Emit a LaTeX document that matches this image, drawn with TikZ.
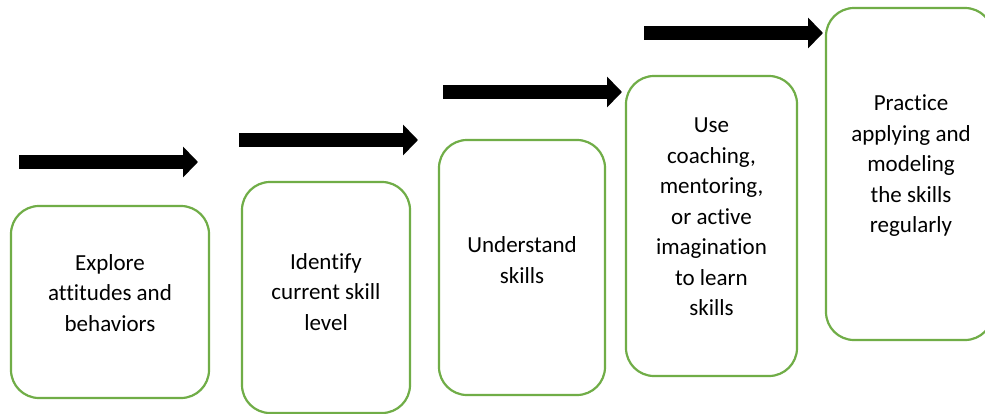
\documentclass[tikz,border=0pt]{standalone}
\usepackage{fontspec}
\setmainfont{Carlito}[Ligatures=NoCommon]
\usetikzlibrary{arrows.meta}
\definecolor{stepgreen}{HTML}{70AD47}
\begin{document}
\begin{tikzpicture}[x=1pt,y=-1pt,
  stepbox/.style={draw=stepgreen, line width=2.2pt, rounded corners=28pt,
    fill=white, inner sep=0pt, rectangle},
  steptext/.style={align=center, inner sep=0pt,
    font=\fontsize{23}{30.5}\selectfont},
  stepdir/.style={line width=14.5pt, draw=black,
    -{Triangle[length=15pt 0, width=30pt 0]}}]
  \useasboundingbox (0,0) rectangle (985,413);
  \clip (0,0) rectangle (985,413);
  \fill[white] (0,0) rectangle (985,413);

  % step boxes
  \node[stepbox, minimum width=198pt, minimum height=192pt] (b1) at (110,302) {};
  \node[stepbox, minimum width=168pt, minimum height=231pt] (b2) at (326,297.5) {};
  \node[stepbox, minimum width=166pt, minimum height=255pt] (b3) at (522,267.5) {};
  \node[stepbox, minimum width=171pt, minimum height=300pt] (b4) at (711.5,226) {};
  \node[stepbox, minimum width=167pt, minimum height=332pt] (b5) at (909.5,174) {};

  % step labels
  \node[steptext] (t1) at (110,293) {Explore\\attitudes and\\behaviors};
  \node[steptext] (t2) at (326,292) {Identify\\current skill\\level};
  \node[steptext] (t3) at (522,260) {Understand\\skills};
  \node[steptext] (t4) at (711.5,217) {Use\\coaching,\\mentoring,\\or active\\imagination\\to learn\\skills};
  \node[steptext] (t5) at (911,166) {Practice\\applying and\\modeling\\the skills\\regularly};

  % progression arrows
  \coordinate (a1s) at (19,162);  \coordinate (a1e) at (198,162);
  \coordinate (a2s) at (239,140); \coordinate (a2e) at (418,140);
  \coordinate (a3s) at (443,92);  \coordinate (a3e) at (622,92);
  \coordinate (a4s) at (644,33);  \coordinate (a4e) at (823,33);
  \draw[stepdir] (a1s) -- (a1e);
  \draw[stepdir] (a2s) -- (a2e);
  \draw[stepdir] (a3s) -- (a3e);
  \draw[stepdir] (a4s) -- (a4e);
\end{tikzpicture}
\end{document}
